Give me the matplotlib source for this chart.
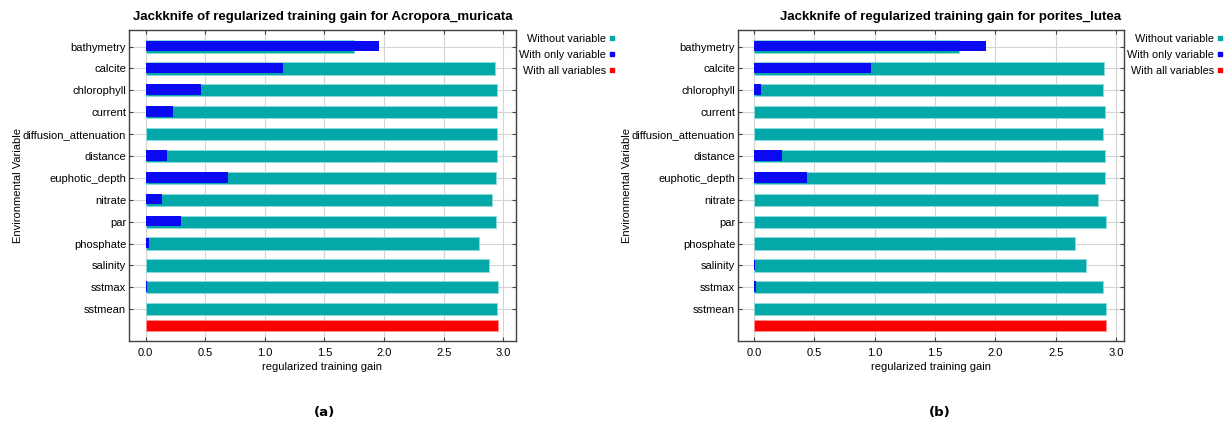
import numpy as np
import matplotlib as mpl
mpl.use('Agg')
import matplotlib.pyplot as plt
from matplotlib.lines import Line2D

mpl.rcParams['font.family'] = ['Liberation Sans Narrow', 'Liberation Sans', 'DejaVu Sans']

variables = ['bathymetry', 'calcite', 'chlorophyll', 'current', 'diffusion_attenuation',
             'distance', 'euphotic_depth', 'nitrate', 'par', 'phosphate', 'salinity',
             'sstmax', 'sstmean']

# Acropora_muricata
acr_without = [1.75, 2.93, 2.95, 2.95, 2.95, 2.95, 2.94, 2.91, 2.94, 2.80, 2.88, 2.96, 2.95]
acr_only = [1.96, 1.15, 0.46, 0.23, 0.005, 0.18, 0.69, 0.14, 0.30, 0.03, 0.0, 0.01, 0.004]
acr_all = 2.96

# porites_lutea
por_without = [1.70, 2.90, 2.89, 2.91, 2.89, 2.91, 2.91, 2.85, 2.92, 2.66, 2.75, 2.89, 2.92]
por_only = [1.92, 0.97, 0.06, 0.0, 0.003, 0.23, 0.44, 0.0, 0.004, 0.0, 0.01, 0.02, 0.003]
por_all = 2.92

species = ['Acropora_muricata', 'porites_lutea']
xticks = [0.0, 0.5, 1.0, 1.5, 2.0, 2.5, 3.0]

c_without = '#04a8a8'
c_only = '#0a0af2'
c_all = '#ff0000'

fig = plt.figure(figsize=(12.25, 4.22), dpi=100)

panels = [
    (acr_without, acr_only, acr_all, [0.1053, 0.192, 0.3159, 0.737], (-0.14, 3.107), 0.5, '(a)', 0.265),
    (por_without, por_only, por_all, [0.6024, 0.192, 0.3151, 0.737], (-0.133, 3.066), 0.55, '(b)', 0.767),
]

ypos = np.arange(len(variables))
y_all = len(variables) - 1 + 0.73

for (without, only, allv, rect, xl, tx, cap, capx), name in zip(panels, species):
    ax = fig.add_axes(rect)
    ax.set_axisbelow(True)
    ax.grid(True, color='#d4d4d4', linewidth=0.8)
    ax.barh(ypos, without, height=0.56, color=c_without, edgecolor='#8adcdc', linewidth=0.7)
    ax.barh(ypos - 0.03, only, height=0.48, color=c_only, edgecolor='none')
    ax.barh([y_all], [allv], height=0.5, color=c_all, edgecolor='#ff9090', linewidth=0.6)

    ax.set_xlim(xl)
    ax.set_ylim(13.45, -0.76)
    ax.set_xticks(xticks)
    ax.set_xticklabels(['{:.1f}'.format(t) for t in xticks])
    ax.set_yticks(ypos)
    ax.set_yticklabels(variables)
    ax.tick_params(direction='in', length=3, width=0.8, color='#404040',
                   top=True, right=True, labelsize=8, pad=2)
    ax.tick_params(axis='x', pad=5)
    for s in ax.spines.values():
        s.set_color('#404040')
        s.set_linewidth(1.0)

    ax.set_title('Jackknife of regularized training gain for ' + name,
                 fontsize=9.5, fontweight='bold', x=tx, pad=7)
    ax.set_xlabel('regularized training gain', fontsize=8, labelpad=3)
    ax.set_ylabel('Environmental Variable', fontsize=8)
    ax.yaxis.set_label_coords(-0.275, 0.5)

    handles = [Line2D([], [], marker='s', linestyle='none', markersize=3.5, color=c)
               for c in (c_without, c_only, c_all)]
    ax.legend(handles, ['Without variable', 'With only variable', 'With all variables'],
              loc='upper right', bbox_to_anchor=(1.262, 0.995), frameon=False,
              markerfirst=False, fontsize=7.8, handletextpad=0.25, labelspacing=0.58,
              handlelength=0.6, borderaxespad=0.0, borderpad=0.2)

    fig.text(capx, 0.015, cap, fontsize=9.5, fontweight='bold', ha='center',
             family='DejaVu Sans')

fig.savefig('out.png', dpi=100)
